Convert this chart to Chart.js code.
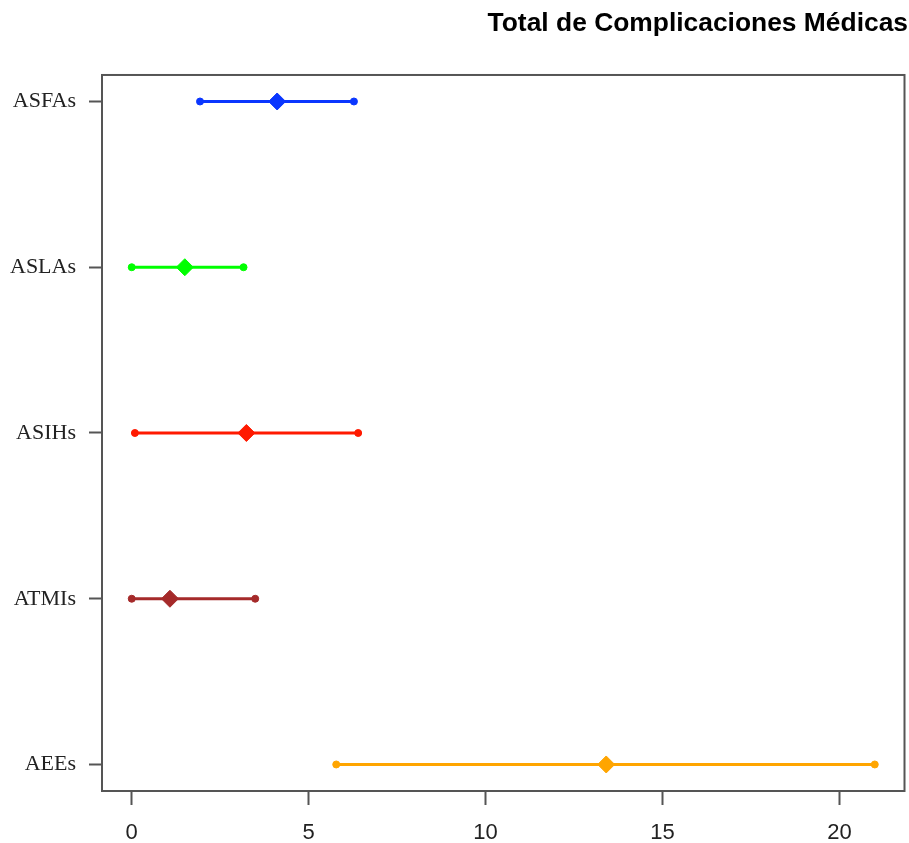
<!DOCTYPE html>
<html>
<head>
<meta charset="utf-8">
<script src="https://cdn.jsdelivr.net/npm/chart.js@4"></script>
<style>
  html, body { margin: 0; padding: 0; background: #ffffff; }
  canvas { display: block; }
</style>
</head>
<body>
<canvas id="c" width="909" height="843"></canvas>
<script>
// ---- data ----
const categories = ['ASFAs', 'ASLAs', 'ASIHs', 'ATMIs', 'AEEs'];
const lowValues  = [1.93, 0.00, 0.09, 0.00, 5.78];
const meanValues = [4.11, 1.50, 3.24, 1.08, 13.41];
const highValues = [6.28, 3.16, 6.40, 3.49, 21.00];
const seriesColors = ['#0a36ff', '#00ff00', '#ff1a00', '#a52a2a', '#ffa500'];
const xTickValues = [0, 5, 10, 15, 20];
const titleText = 'Total de Complicaciones Médicas';

// category position: first category at top
const posOf = i => categories.length - i;

const datasets = categories.map((name, i) => ({
  label: name,
  data: [
    { x: lowValues[i],  y: posOf(i) },
    { x: meanValues[i], y: posOf(i) },
    { x: highValues[i], y: posOf(i) }
  ],
  showLine: true,
  borderColor: seriesColors[i],
  backgroundColor: seriesColors[i],
  borderWidth: 3,
  pointStyle: ['circle', 'rectRot', 'circle'],
  pointRadius: [3.5, 8.5, 3.5],
  pointBorderWidth: 1,
  pointBorderColor: seriesColors[i],
  pointBackgroundColor: seriesColors[i],
  pointHoverRadius: [3.5, 8.5, 3.5]
}));

const boxPlugin = {
  id: 'boxPlugin',
  afterDatasetsDraw(chart) {
    const a = chart.chartArea;
    const ctx = chart.ctx;
    ctx.save();
    ctx.strokeStyle = '#555555';
    ctx.lineWidth = 2;
    ctx.strokeRect(a.left, a.top, a.right - a.left, a.bottom - a.top);
    ctx.restore();
  }
};

new Chart(document.getElementById('c'), {
  type: 'scatter',
  data: { datasets },
  plugins: [boxPlugin],
  options: {
    responsive: false,
    animation: false,
    devicePixelRatio: 1,
    layout: { padding: { left: 0, right: 1, top: 0, bottom: 0 } },
    plugins: {
      legend: { display: false },
      tooltip: { enabled: false },
      title: {
        display: true,
        text: titleText,
        align: 'end',
        color: '#000000',
        font: { family: '"Liberation Sans", Arial, sans-serif', size: 26.4, weight: 'bold', lineHeight: 1.2 },
        padding: { top: 8, bottom: 35.3 }
      }
    },
    scales: {
      x: {
        type: 'linear',
        min: -0.84,
        max: 21.84,
        afterBuildTicks(scale) { scale.ticks = xTickValues.map(v => ({ value: v })); },
        afterFit(scale) { scale.height = 52; scale.paddingLeft = 0; scale.paddingRight = 0; },
        border: { display: false },
        grid: { drawOnChartArea: false, drawTicks: true, tickLength: 14, tickColor: '#555555', tickWidth: 2 },
        ticks: {
          padding: 15,
          color: '#222222',
          maxRotation: 0,
          font: { family: '"Liberation Sans", Arial, sans-serif', size: 22 },
          callback: v => String(v)
        }
      },
      y: {
        type: 'linear',
        min: 0.84,
        max: 5.16,
        afterBuildTicks(scale) { scale.ticks = categories.map((c, i) => ({ value: posOf(i) })); },
        afterFit(scale) { scale.width = 102; scale.paddingTop = 0; scale.paddingBottom = 0; },
        border: { display: false },
        grid: { drawOnChartArea: false, drawTicks: true, tickLength: 13, tickColor: '#555555', tickWidth: 2 },
        ticks: {
          padding: 13,
          color: '#222222',
          font: { family: '"Liberation Serif", "Times New Roman", serif', size: 22 },
          callback: v => categories[categories.length - Math.round(v)]
        }
      }
    }
  }
});
</script>
</body>
</html>
